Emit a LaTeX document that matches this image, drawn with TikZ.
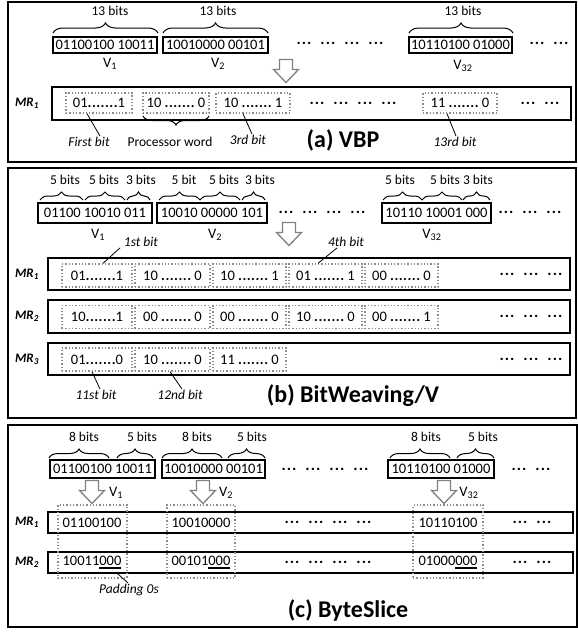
\documentclass[tikz,border=0pt]{standalone}
\usepackage{fontspec}
\setmainfont{Carlito}
\usetikzlibrary{positioning,decorations.pathreplacing,calc}
\definecolor{arrowGray}{RGB}{128,128,128}
\definecolor{dotGray}{RGB}{140,140,140}
\newcommand{\fsz}[1]{\fontsize{#1}{#1}\selectfont}
\newcommand{\dts}{\makebox[30pt][s]{\bfseries.\hfill.\hfill.\hfill.\hfill.\hfill.\hfill.}}
\newcommand{\dg}{\makebox[15pt][s]{.\hfill.\hfill.}}
\newcommand{\dgs}[1]{\dg\foreach \i in {2,...,#1}{\hspace{9pt}\dg}}
\newcommand{\padz}[1]{\setbox0=\hbox{#1}\rlap{\rule[-2.8pt]{\wd0}{1.6pt}}\box0}
\tikzset{
  panel/.style={draw, line width=1.7pt},
  valbox/.style={draw, line width=1.4pt, inner sep=1pt, font=\fsz{14.5}},
  rowbox/.style={draw, line width=1.4pt, inner sep=0pt},
  wordbox/.style={draw=dotGray, dotted, line width=1.3pt, inner sep=0pt, font=\fsz{14.5}},
  cellbox/.style={draw=dotGray, dotted, line width=1.3pt, inner sep=0pt},
  celltext/.style={font=\fsz{14.5}},
  bitlbl/.style={font=\fsz{13.5}},
  vlbl/.style={font=\fsz{14.5}},
  mrlbl/.style={font=\fsz{13}\bfseries\itshape},
  note/.style={font=\fsz{13.5}\itshape, inner sep=1pt},
  title/.style={font=\fsz{24}\bfseries},
  gaps/.style={font=\fsz{16}\bfseries},
  lead/.style={draw, line width=0.8pt},
  bits/.style={decorate, decoration={brace, amplitude=#1}, line width=1pt},
  bits/.default=9pt,
  hollowarrow/.pic={\draw[arrowGray, line width=1.3pt, fill=white]
    (-6.5,-11.5) -- (6.5,-11.5) -- (6.5,-1.5) -- (12.5,-1.5) -- (0,11.5)
    -- (-12.5,-1.5) -- (-6.5,-1.5) -- cycle;}
}

\begin{document}
\begin{tikzpicture}[x=1pt, y=-1pt]
  \useasboundingbox (0,0) rectangle (578,632);

  % (a) VBP
  \draw[panel] (8,2) rectangle (576,162);
  \node[valbox, minimum width=104pt, minimum height=16pt] (va1) at (105,45) {01100100 10011};
  \node[valbox, minimum width=105pt, minimum height=16pt] (va2) at (215.5,45) {10010000 00101};
  \node[valbox, minimum width=103pt, minimum height=16pt] (va3) at (460.5,45) {10110100 01000};
  \draw[bits=10pt] (53,33) -- (158,33);
  \draw[bits=10pt] (163,33) -- (268,33);
  \draw[bits=10pt] (409,33) -- (513,33);
  \node[bitlbl] (ba1) at (110,11) {13 bits};
  \node[bitlbl] (ba2) at (218,11) {13 bits};
  \node[bitlbl] (ba3) at (463,11) {13 bits};
  \node[vlbl] (la1) at (110,64) {V\textsubscript{1}};
  \node[vlbl] (la2) at (218,64) {V\textsubscript{2}};
  \node[vlbl] (la3) at (463,66) {V\textsubscript{32}};
  \node[gaps] (ga1) at (340,43) {\dgs{4}};
  \node[gaps] (ga2) at (549,43) {\dgs{2}};
  \pic (pa) at (286,71) {hollowarrow};

  \node[mrlbl] (mra) at (27,103) {MR\textsubscript{1}};
  \node[rowbox, minimum width=519pt, minimum height=33pt] (ra) at (311.5,103.5) {};
  \node[wordbox, minimum width=66pt, minimum height=20pt] (wa1) at (99,103) {01\dts1};
  \node[wordbox, minimum width=66pt, minimum height=20pt] (wa2) at (176,103) {10 \dts\ 0};
  \node[wordbox, minimum width=74pt, minimum height=20pt] (wa3) at (253,103) {10 \dts\ 1};
  \node[wordbox, minimum width=74pt, minimum height=20pt] (wa4) at (460,103) {11 \dts\ 0};
  \node[gaps] (ga3) at (353,103) {\dgs{4}};
  \node[gaps] (ga4) at (540,103) {\dgs{2}};

  \draw[bits=9pt] (209,116) -- (143,116);
  \node[note] (na1) at (89,142) {First bit};
  \node[bitlbl] (na2) at (170,142) {Processor word};
  \node[note] (na3) at (248,140) {3rd bit};
  \node[note] (na4) at (455,142) {13rd bit};
  \draw[lead] ([xshift=-12pt]wa1.south) -- ([xshift=11pt]na1.north);
  \draw[lead] ([xshift=-10pt]wa3.south) -- ([xshift=4pt]na3.north);
  \draw[lead] ([xshift=-13pt]wa4.south) -- ([xshift=1pt]na4.north);
  \node[title] (ta) at (343,140) {(a) VBP};

  % (b) BitWeaving/V
  \draw[panel] (8,168) rectangle (576,418);
  \node[valbox, minimum width=114pt, minimum height=20pt] (vb1) at (95,213) {01100 10010 011};
  \node[valbox, minimum width=110pt, minimum height=20pt] (vb2) at (212,213) {10010 00000 101};
  \node[valbox, minimum width=109pt, minimum height=20pt] (vb3) at (436.5,213) {10110 10001 000};
  \draw[bits=8pt] (40,200) -- (83,200);
  \draw[bits=8pt] (85,200) -- (125,200);
  \draw[bits=8pt] (127,200) -- (150,200);
  \draw[bits=8pt] (159,200) -- (200,200);
  \draw[bits=8pt] (200,200) -- (240,200);
  \draw[bits=8pt] (242,200) -- (265,200);
  \draw[bits=8pt] (383,200) -- (422,200);
  \draw[bits=8pt] (422,200) -- (462,200);
  \draw[bits=8pt] (463,200) -- (490,200);
  \node[bitlbl] (bb1) at (65,180) {5 bits};
  \node[bitlbl] (bb2) at (104,180) {5 bits};
  \node[bitlbl] (bb3) at (141,180) {3 bits};
  \node[bitlbl] (bb4) at (184,180) {5 bit};
  \node[bitlbl] (bb5) at (224,180) {5 bits};
  \node[bitlbl] (bb6) at (260,180) {3 bits};
  \node[bitlbl] (bb7) at (400,180) {5 bits};
  \node[bitlbl] (bb8) at (445,180) {5 bits};
  \node[bitlbl] (bb9) at (478,180) {3 bits};
  \node[vlbl] (lb1) at (98,235) {V\textsubscript{1}};
  \node[vlbl] (lb2) at (215,235) {V\textsubscript{2}};
  \node[vlbl] (lb3) at (432,235) {V\textsubscript{32}};
  \node[gaps] (gb1) at (322,212) {\dgs{4}};
  \node[gaps] (gb2) at (530,212) {\dgs{3}};
  \pic (pb) at (289,234) {hollowarrow};

  \node[mrlbl] (mrb1) at (27,274) {MR\textsubscript{1}};
  \node[mrlbl] (mrb2) at (27,316.5) {MR\textsubscript{2}};
  \node[mrlbl] (mrb3) at (27,359) {MR\textsubscript{3}};
  \node[rowbox, minimum width=522pt, minimum height=32pt] (rb1) at (309,274) {};
  \node[rowbox, minimum width=522pt, minimum height=33pt] (rb2) at (309,316.5) {};
  \node[rowbox, minimum width=522pt, minimum height=32pt] (rb3) at (309,359) {};

  \node[wordbox, minimum width=70pt, minimum height=23pt] (wb11) at (97,275.5) {01\dts1};
  \node[wordbox, minimum width=75pt, minimum height=23pt] (wb12) at (172.5,275.5) {10 \dts\ 0};
  \node[wordbox, minimum width=73pt, minimum height=23pt] (wb13) at (249.5,275.5) {10 \dts\ 1};
  \node[wordbox, minimum width=73pt, minimum height=23pt] (wb14) at (325.5,275.5) {01 \dts\ 1};
  \node[wordbox, minimum width=73pt, minimum height=23pt] (wb15) at (401.5,275.5) {00 \dts\ 0};
  \node[gaps] (gb3) at (531,274) {\dgs{3}};

  \node[wordbox, minimum width=70pt, minimum height=23pt] (wb21) at (97,317) {10\dts1};
  \node[wordbox, minimum width=75pt, minimum height=23pt] (wb22) at (172.5,317) {00 \dts\ 0};
  \node[wordbox, minimum width=73pt, minimum height=23pt] (wb23) at (249.5,317) {00 \dts\ 0};
  \node[wordbox, minimum width=73pt, minimum height=23pt] (wb24) at (325.5,317) {10 \dts\ 0};
  \node[wordbox, minimum width=73pt, minimum height=23pt] (wb25) at (401.5,317) {00 \dts\ 1};
  \node[gaps] (gb4) at (531,316) {\dgs{3}};

  \node[wordbox, minimum width=70pt, minimum height=23pt] (wb31) at (97,359.5) {01\dts0};
  \node[wordbox, minimum width=75pt, minimum height=23pt] (wb32) at (172.5,359.5) {10 \dts\ 0};
  \node[wordbox, minimum width=73pt, minimum height=23pt] (wb33) at (249.5,359.5) {11 \dts\ 0};
  \node[gaps] (gb5) at (531,359) {\dgs{3}};

  \node[note] (nb1) at (141,242) {1st bit};
  \node[note] (nb2) at (346,242) {4th bit};
  \node[note] (nb3) at (96,395) {11st bit};
  \node[note] (nb4) at (180,395) {12nd bit};
  \draw[lead] ([xshift=6pt]wb11.north) -- ([xshift=-21pt]nb1.south);
  \draw[lead] ([xshift=-7.5pt]wb14.north) -- ([xshift=-9pt]nb2.south);
  \draw[lead] ([xshift=-5pt]wb31.south) -- ([xshift=4pt]nb3.north);
  \draw[lead] ([xshift=-2.5pt]wb32.south) -- ([xshift=2pt]nb4.north);
  \node[title] (tb) at (353,396) {(b) BitWeaving/V};

  % (c) ByteSlice
  \draw[panel] (8,425) rectangle (577,627);
  \node[valbox, minimum width=105pt, minimum height=18pt] (vc1) at (102.5,469) {01100100 10011};
  \node[valbox, minimum width=103pt, minimum height=18pt] (vc2) at (213.5,469) {10010000 00101};
  \node[valbox, minimum width=106pt, minimum height=18pt] (vc3) at (441,469) {10110100 01000};
  \draw[bits] (49,458) -- (109,458);
  \draw[bits] (117,458) -- (153,458);
  \draw[bits] (162,458) -- (222,458);
  \draw[bits] (228,458) -- (265,458);
  \draw[bits] (390,458) -- (450,458);
  \draw[bits] (457,458) -- (494,458);
  \node[bitlbl] (bc1) at (84,437) {8 bits};
  \node[bitlbl] (bc2) at (142,437) {5 bits};
  \node[bitlbl] (bc3) at (197,437) {8 bits};
  \node[bitlbl] (bc4) at (252,437) {5 bits};
  \node[bitlbl] (bc5) at (426,437) {8 bits};
  \node[bitlbl] (bc6) at (483,437) {5 bits};
  \node[gaps] (gc1) at (325,469) {\dgs{4}};
  \node[gaps] (gc2) at (531,469) {\dgs{2}};
  \pic (pc1) at (92,492) {hollowarrow};
  \pic (pc2) at (203,492) {hollowarrow};
  \pic (pc3) at (444,492) {hollowarrow};
  \node[vlbl] (lc1) at (116,493) {V\textsubscript{1}};
  \node[vlbl] (lc2) at (226,493) {V\textsubscript{2}};
  \node[vlbl] (lc3) at (469,493) {V\textsubscript{32}};

  \node[mrlbl] (mrc1) at (27,522.5) {MR\textsubscript{1}};
  \node[mrlbl] (mrc2) at (27,562.5) {MR\textsubscript{2}};
  \node[rowbox, minimum width=525pt, minimum height=21pt] (rc1) at (310.5,522.5) {};
  \node[rowbox, minimum width=525pt, minimum height=21pt] (rc2) at (310.5,562.5) {};
  \node[cellbox, minimum width=69pt, minimum height=73pt] (cc1) at (92.5,541.5) {};
  \node[cellbox, minimum width=68pt, minimum height=73pt] (cc2) at (201,541.5) {};
  \node[cellbox, minimum width=70pt, minimum height=73pt] (cc3) at (448,541.5) {};
  \node[celltext] (tc11) at (92,522.5) {01100100};
  \node[celltext] (tc12) at (92,562.5) {10011\padz{000}};
  \node[celltext] (tc21) at (201,522.5) {10010000};
  \node[celltext] (tc22) at (201,562.5) {00101\padz{000}};
  \node[celltext] (tc31) at (448,522.5) {10110100};
  \node[celltext] (tc32) at (448,562.5) {01000\padz{000}};
  \node[gaps] (gc3) at (328,522) {\dgs{4}};
  \node[gaps] (gc4) at (532,522) {\dgs{2}};
  \node[gaps] (gc5) at (328,562) {\dgs{4}};
  \node[gaps] (gc6) at (532,562) {\dgs{2}};
  \node[note] (nc1) at (129,590) {Padding 0s};
  \draw[lead] ([xshift=25pt,yshift=-1pt]tc12.south) -- ([xshift=-1pt]nc1.north);
  \node[title] (tc) at (348,610) {(c) ByteSlice};
\end{tikzpicture}
\end{document}
